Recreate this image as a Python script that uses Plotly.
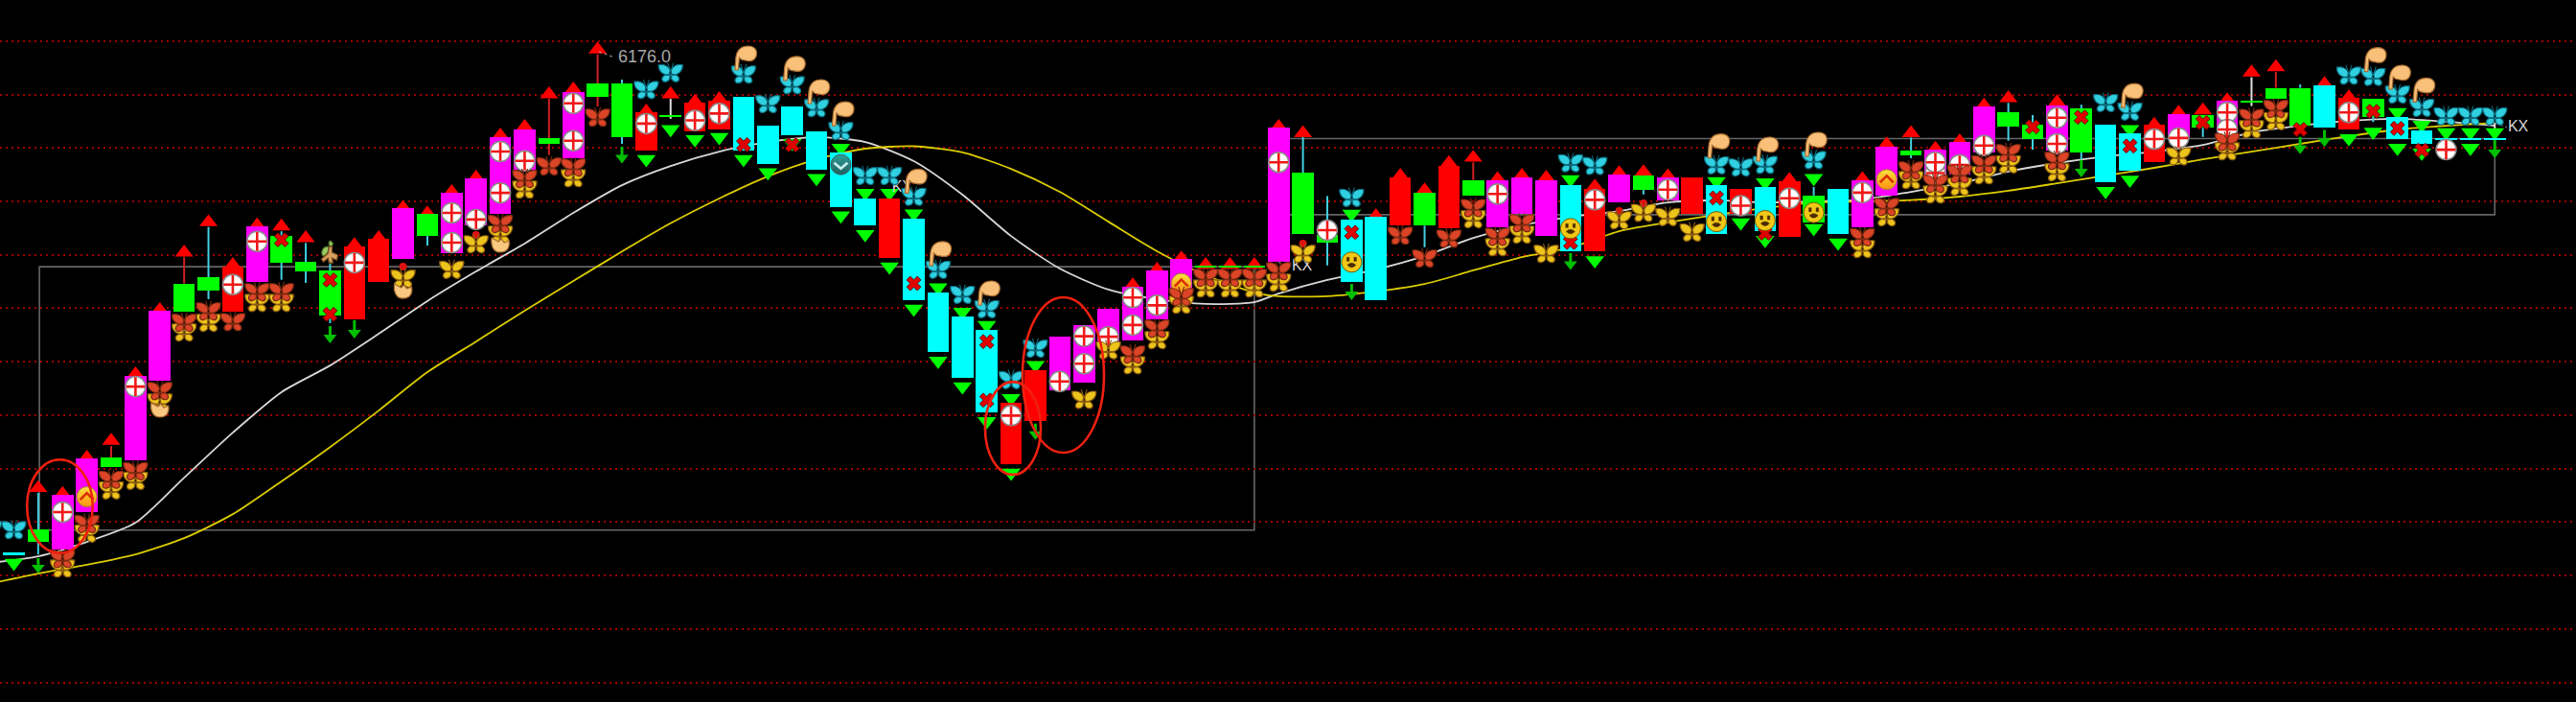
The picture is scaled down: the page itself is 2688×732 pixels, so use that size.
import plotly.graph_objects as go

# ---------- bars (index -1 .. 102) ----------
bar_index = list(range(-1, 103))
bar_kind = list("CCGMMGMMGGRMGGGRRMGMMMMGMGGRGRRCCCCCCRCCCCRRMMMMMMGGGMGGCCRGRGMMMCRMGMRCRCRGCMMGMMMGGMGCCRMGMGGGCRGCCCCC")
body_high = [5988.1, 5988.1, 5996.8, 6009.9, 6023.3, 6023.8, 6054.5, 6078.9, 6089.1, 6091.4, 6095.3, 6110.6, 6107.0,
             6097.2, 6094.0, 6103.1, 6105.8, 6117.3, 6115.1, 6123.1, 6128.5, 6144.1, 6146.9, 6143.7, 6160.9, 6164.1,
             6164.1, 6153.3, 6152.3, 6157.1, 6157.7, 6159.2, 6148.5, 6155.5, 6146.3, 6138.2, 6121.0, 6121.0, 6113.5,
             6085.8, 6076.7, 6071.8, 6044.3, 6056.5, 6069.1, 6073.4, 6079.5, 6088.0, 6093.9, 6098.3, 6095.8, 6095.8,
             6095.8, 6147.5, 6130.7, 6107.3, 6113.0, 6114.0, 6129.0, 6123.1, 6133.3, 6127.9, 6127.9, 6129.0, 6127.9,
             6125.9, 6124.7, 6130.1, 6129.6, 6129.0, 6129.0, 6125.9, 6124.7, 6125.3, 6127.5, 6122.1, 6124.7, 6127.9,
             6140.4, 6138.9, 6139.3, 6142.1, 6155.5, 6153.5, 6148.6, 6156.0, 6154.9, 6148.6, 6145.4, 6148.6, 6152.8,
             6152.3, 6157.7, 6157.7, 6162.5, 6162.5, 6163.6, 6158.7, 6158.3, 6151.7, 6146.7, 6143.7, 6143.7, 6143.7]
body_low = [5987.4, 5987.4, 5992.1, 5989.3, 6003.4, 6020.2, 6022.7, 6052.5, 6078.4, 6086.5, 6078.4, 6089.8, 6096.8,
            6093.5, 6077.2, 6075.7, 6089.8, 6098.3, 6107.0, 6100.6, 6110.9, 6115.1, 6131.9, 6141.5, 6136.1, 6159.2,
            6143.9, 6138.9, 6151.8, 6146.3, 6146.9, 6138.9, 6134.1, 6144.7, 6131.9, 6117.9, 6110.9, 6098.6, 6082.7,
            6063.4, 6053.6, 6040.7, 6021.2, 6037.4, 6049.1, 6051.9, 6065.3, 6067.6, 6075.7, 6085.3, 6095.2, 6095.2,
            6095.2, 6097.1, 6107.6, 6104.3, 6089.8, 6082.7, 6110.8, 6110.8, 6109.8, 6122.2, 6110.2, 6115.1, 6107.0,
            6101.1, 6101.1, 6119.4, 6124.2, 6120.4, 6115.1, 6107.6, 6115.1, 6108.7, 6106.6, 6112.1, 6107.6, 6110.2,
            6122.1, 6137.2, 6127.8, 6130.1, 6138.2, 6148.1, 6143.3, 6138.9, 6138.3, 6127.0, 6131.4, 6134.6, 6144.0,
            6147.5, 6146.4, 6157.2, 6158.3, 6148.3, 6147.5, 6146.9, 6151.7, 6143.3, 6141.5, 6143.1, 6143.1, 6143.1]
kind_color = {"C": "#00ffff", "G": "#00ff00", "M": "#ff00ff", "R": "#ff0000"}

# ---------- wicks ----------
wick_k = [1, 4, 7, 8, 11, 12, 13, 17, 22, 24, 25, 27, 53, 54, 58, 60, 67, 74, 78, 82, 83, 85, 90, 92, 93, 94, 97, 102]
wick_hi = [6010.5, 6028.1, 6099.0, 6110.3, 6108.7, 6104.3, 6096.5, 6107.0, 6158.4, 6175.1, 6165.6, 6158.4, 6144.0,
           6121.9, 6110.8, 6134.6, 6124.2, 6125.3, 6143.9, 6156.9, 6152.3, 6156.2, 6147.5, 6166.5, 6168.5, 6163.8,
           6151.7, 6149.4]
wick_lo = [5987.4, 6023.8, 6089.1, 6083.2, 6090.5, 6089.3, 6074.2, 6103.3, 6137.3, 6155.5, 6141.5, 6150.9, 6130.7,
           6095.9, 6102.7, 6127.9, 6122.5, 6122.1, 6136.1, 6142.7, 6139.3, 6135.7, 6144.1, 6155.7, 6162.5, 6162.5,
           6149.7, 6143.7]
wick_kind = ["c", "r", "r", "c", "c", "c", "c", "c", "r", "r", "c", "w", "c", "c", "c", "r", "c", "c", "c", "c", "c",
             "c", "c", "w", "r", "c", "c", "w"]
wick_color = {"c": "#40d0e0", "r": "#d02020", "w": "#e0e0e0"}

# ---------- moving averages ----------
ma_index = [-1, 1, 3, 5, 7, 9, 11, 13, 15, 17, 19, 21, 23, 25, 27, 29, 31, 33, 35, 37, 39, 41, 43, 45, 47, 49, 51,
            52, 54, 56, 58, 60, 62, 64, 66, 68, 70, 72, 74, 76, 78, 80, 82, 84, 86, 88, 90, 92, 94, 96, 98, 100, 102]
ma_white = [5984.2, 5986.7, 5992.1, 5999.3, 6016.2, 6033.1, 6048.3, 6058.3, 6070.2, 6082.5, 6093.6, 6104.1, 6115.6,
            6126.0, 6133.2, 6138.6, 6142.2, 6144.0, 6142.2, 6135.0, 6122.4, 6106.9, 6094.7, 6086.8, 6083.2, 6081.4,
            6082.1, 6085.3, 6090.4, 6094.3, 6099.4, 6106.2, 6110.9, 6114.1, 6116.3, 6119.5, 6120.3, 6119.5, 6119.9,
            6120.6, 6123.5, 6126.7, 6131.1, 6134.3, 6136.8, 6138.6, 6141.1, 6145.8, 6148.3, 6150.1, 6150.9, 6149.8,
            6148.3]
ma_yellow = [5976.4, 5980.2, 5983.5, 5987.4, 5993.5, 6002.5, 6014.8, 6027.7, 6041.4, 6055.8, 6067.3, 6078.9, 6090.0,
             6101.1, 6111.7, 6121.0, 6129.3, 6135.7, 6139.7, 6140.6, 6138.3, 6132.1, 6123.5, 6112.3, 6101.2, 6092.2,
             6085.7, 6084.3, 6084.3, 6086.1, 6088.9, 6094.0, 6099.0, 6102.6, 6108.7, 6112.0, 6114.9, 6117.4, 6119.5,
             6119.9, 6120.4, 6121.7, 6123.9, 6126.7, 6129.6, 6132.5, 6135.7, 6138.6, 6141.5, 6144.4, 6146.9, 6148.3,
             6149.4]

# ---------- signal markers ----------
tri_up_k = [1, 2, 3, 4, 5, 6, 7, 8, 9, 10, 11, 12, 14, 15, 16, 17, 18, 19, 20, 21, 22, 23, 24, 26, 27, 28, 29, 46, 47,
            48, 49, 50, 51, 52, 53, 56, 57, 58, 59, 60, 61, 62, 63, 65, 66, 67, 68, 73, 76, 77, 78, 79, 80, 81, 82,
            84, 88, 89, 90, 91, 92, 93, 95, 96]
tri_up_apex = [6015.3, 6013.1, 6026.7, 6033.1, 6058.0, 6082.1, 6103.7, 6115.1, 6099.0, 6113.9, 6113.5, 6109.1, 6106.5,
               6109.1, 6120.5, 6118.4, 6126.4, 6131.8, 6147.6, 6150.9, 6163.1, 6164.9, 6179.9, 6156.6, 6163.1, 6160.3,
               6161.3, 6091.4, 6097.2, 6101.5, 6099.0, 6099.0, 6099.0, 6150.9, 6148.5, 6117.4, 6132.5, 6127.0, 6137.3,
               6139.3, 6131.3, 6132.5, 6131.8, 6128.5, 6133.5, 6133.9, 6132.3, 6131.0, 6131.3, 6144.3, 6148.5, 6142.7,
               6145.5, 6158.9, 6161.7, 6160.1, 6151.7, 6156.2, 6157.1, 6160.9, 6171.3, 6173.3, 6167.0, 6161.9]
tri_down_k = [0, 26, 27, 28, 29, 30, 31, 32, 33, 34, 34, 35, 35, 36, 36, 37, 37, 38, 38, 39, 39, 40, 40, 41, 41, 42,
              55, 64, 65, 70, 71, 72, 72, 74, 74, 75, 86, 87, 87, 96, 97, 98, 98, 99, 99, 100, 101, 101, 102]
tri_down_base = [5985.7, 6137.2, 6148.5, 6144.7, 6145.5, 6137.2, 6132.3, 6143.3, 6130.1, 6141.5, 6116.1, 6124.6,
                 6109.1, 6124.6, 6096.9, 6116.8, 6081.1, 6089.1, 6061.6, 6079.9, 6051.9, 6075.0, 6038.9, 6047.5,
                 6019.5, 6059.9, 6116.7, 6129.7, 6099.3, 6129.0, 6113.5, 6128.5, 6106.9, 6130.1, 6111.3, 6105.9,
                 6125.3, 6148.5, 6129.5, 6145.1, 6147.5, 6154.9, 6141.5, 6150.1, 6139.7, 6147.3, 6147.3, 6141.5, 6147.3]
arrow_k = [1, 13, 14, 25, 42, 55, 64, 85, 94, 95, 102]
arrow_top = [5986.0, 6073.1, 6075.3, 6140.4, 6036.5, 6088.9, 6100.5, 6135.5, 6144.1, 6146.7, 6142.9]
arrow_tip = [5980.2, 6066.6, 6068.4, 6134.1, 6030.3, 6082.8, 6094.1, 6128.9, 6137.6, 6140.3, 6136.1]

plus_k = [2, 5, 9, 10, 14, 18, 18, 19, 20, 20, 21, 23, 23, 26, 28, 29, 41, 43, 44, 44, 45, 46, 46, 47, 52, 54, 61, 65,
          68, 71, 73, 76, 79, 79, 80, 81, 84, 84, 88, 89, 91, 91, 96, 100]
plus_y = [6003.3, 6050.4, 6088.7, 6104.9, 6096.9, 6115.6, 6104.4, 6113.1, 6138.6, 6123.1, 6135.1, 6156.7, 6142.7,
          6149.1, 6150.3, 6152.9, 6039.5, 6052.3, 6069.3, 6059.0, 6069.1, 6083.8, 6073.5, 6080.9, 6134.6, 6109.1,
          6122.7, 6120.5, 6124.3, 6118.3, 6121.1, 6123.2, 6130.5, 6134.6, 6133.6, 6140.9, 6151.3, 6141.5, 6143.3,
          6143.7, 6153.3, 6146.9, 6153.3, 6139.3]
cross_k = [11, 13, 13, 30, 32, 37, 40, 40, 55, 64, 70, 72, 83, 85, 87, 90, 94, 97, 98, 99]
cross_y = [6105.5, 6090.4, 6077.5, 6141.2, 6141.1, 6089.1, 6067.3, 6045.3, 6108.3, 6104.5, 6121.2, 6108.0, 6147.9,
           6151.5, 6140.7, 6149.5, 6146.9, 6153.7, 6147.3, 6139.1]
dot_k = [16, 19, 53, 66, 67]
dot_y = [6095.4, 6107.3, 6104.1, 6116.3, 6119.2]

fly_cyan_k = [-1, 0, 26, 27, 30, 31, 32, 33, 34, 35, 36, 37, 38, 39, 40, 41, 42, 55, 64, 65, 70, 71, 72, 74, 86, 87,
              96, 97, 98, 99, 100, 101, 102]
fly_cyan_y = [5996.4, 5996.4, 6161.6, 6167.9, 6167.4, 6156.3, 6163.4, 6154.8, 6146.2, 6129.3, 6129.3, 6121.5, 6094.1,
              6084.7, 6079.3, 6052.7, 6064.5, 6121.1, 6134.1, 6133.1, 6133.3, 6132.5, 6133.5, 6135.3, 6156.7, 6153.5,
              6167.0, 6166.5, 6159.9, 6154.9, 6151.7, 6151.7, 6151.7]
fly_red_k = [2, 3, 4, 5, 6, 7, 8, 9, 10, 11, 20, 21, 22, 23, 24, 46, 47, 48, 49, 50, 51, 52, 57, 58, 59, 60, 61, 62,
             76, 77, 78, 79, 80, 81, 82, 84, 91, 92, 93]
fly_red_y = [5985.6, 5998.7, 6015.3, 6018.5, 6048.6, 6074.2, 6078.5, 6074.5, 6085.7, 6085.7, 6111.3, 6128.2, 6132.9,
             6132.5, 6151.2, 6062.3, 6072.0, 6083.9, 6091.1, 6091.1, 6091.1, 6093.6, 6106.9, 6098.3, 6105.8, 6117.3,
             6106.5, 6111.6, 6106.3, 6117.7, 6131.4, 6126.4, 6130.0, 6133.7, 6137.9, 6135.0, 6142.1, 6151.1, 6154.5]
fly_yellow_k = [2, 3, 4, 5, 6, 7, 8, 10, 11, 16, 18, 19, 20, 21, 23, 44, 45, 46, 47, 48, 49, 50, 51, 52, 53, 60, 61,
                62, 63, 66, 67, 68, 69, 76, 77, 78, 79, 80, 81, 82, 84, 89, 91, 92, 93]
fly_yellow_y = [5982.0, 5995.1, 6011.3, 6014.9, 6044.3, 6070.6, 6074.2, 6081.7, 6081.7, 6090.8, 6094.1, 6103.7, 6107.3,
                6124.2, 6128.5, 6045.3, 6063.9, 6058.3, 6067.7, 6081.0, 6087.1, 6087.1, 6087.1, 6089.3, 6100.1, 6113.1,
                6102.6, 6107.3, 6100.1, 6112.7, 6115.5, 6113.9, 6108.1, 6101.9, 6113.8, 6127.8, 6122.4, 6125.3, 6129.6,
                6133.7, 6130.7, 6136.7, 6138.6, 6146.9, 6149.9]
hand_k = [30, 32, 33, 34, 37, 38, 40, 70, 72, 74, 87, 97, 98, 99]
hand_y = [6173.9, 6170.0, 6161.3, 6153.0, 6127.7, 6100.5, 6085.7, 6140.9, 6139.7, 6141.5, 6159.8, 6173.3, 6166.7, 6161.9]
fist_k = [6, 16, 20]
fist_y = [6041.8, 6086.4, 6103.7]
face_k = [55, 64, 70, 72, 74]
face_y = [6097.1, 6109.7, 6112.3, 6112.7, 6115.7]
chevron_up_k = [3, 48, 77]
chevron_up_y = [6009.0, 6089.1, 6128.1]
chevron_down_k = [34]
chevron_down_y = [6133.7]
tree_k = [13]
tree_y = [6100.8]

# ---------- frames, rings, grid and labels ----------
frame_x0 = [1.05, 52]
frame_x1 = [51, 102]
frame_top = [6095.4, 6143.5]
frame_bottom = [5996.5, 6114.9]
ring_x0 = [0.54, 39.93, 41.47]
ring_x1 = [3.24, 42.22, 44.82]
ring_top = [6023.0, 6052.2, 6083.9]
ring_bottom = [5987.9, 6017.3, 6025.6]
grid_prices = [6180.1, 6160.0, 6140.0, 6119.9, 6099.8, 6079.8, 6059.7, 6039.6, 6019.6, 5999.5, 5979.4, 5959.4, 5939.3]
peak_value = 6176.0
peak_label_x, peak_label_y = 24.84, 6173.7
kx_x = [52.54, 102.54, 36.1]
kx_y = [6095.4, 6147.7, 6124.9]
kx_text = ["KX", "KX", "KX"]
leader_x = [24.05, 24.7, None, 52.0, 52.5, None, 102.0, 102.5]
leader_y = [6176.1, 6173.9, None, 6097.0, 6095.4, None, 6149.4, 6147.7]

X_RANGE = [-0.571, 105.34]
Y_RANGE = [5932.0, 6195.5]

# ---------- pixel-sized sprites anchored on data positions ----------
WINGS = ("M0.5,3 C2,8 7,10 12.5,9 C13,4 10,-1 1.5,-2 Z "
         "M0.5,-1 C5,-1 9,-2 9,-6 C8,-10 3,-9 1,-6 Z "
         "M-0.5,3 C-2,8 -7,10 -12.5,9 C-13,4 -10,-1 -1.5,-2 Z "
         "M-0.5,-1 C-5,-1 -9,-2 -9,-6 C-8,-10 -3,-9 -1,-6 Z "
         "M0,2 L3,11 M0,2 L-3,11")
HAND = "M-9,-13 L-8,0 C-7,8 -2,12 5,12 C12,12 15,7 13,1 C11,-4 6,-4 2,-3 C0,-3 -3,-2 -4.5,0 L-5.5,-13 Z"
FIST = "M-9,7 C-10,0 -8,-8 0,-8 C8,-8 10,-2 9,4 L4,2 L1,6 L-2,3 Z"
FACE = ("M-5,5 L-2.5,5 L-2.5,1 L-5,1 Z M2.5,5 L5,5 L5,1 L2.5,1 Z "
        "M-4.5,-3 Q0,1 4.5,-3 Q0,-8 -4.5,-3 Z")
CHEV_UP = "M-7,-3 L0,4 L7,-3"
CHEV_DOWN = "M-7,2 L0,-4 L7,2"
TREE_LEAF = "M-2,6 C-9,6 -10,-2 -7,-4 C-3,-3 -1,2 -2,6 Z M0,12 C3,11 4,8 1,6 C-2,8 -2,10 0,12 Z"
TREE_BODY = "M-1,6 L2,6 L2,0 L8,-3 L7,-8 L2,-6 L3,-11 L-1,-11 L-2,-6 L-7,-10 L-9,-7 L-2,-1 Z"


def sprite(k, price, path, fill, line, width=1.2):
    return dict(type="path", xref="x", yref="y", xsizemode="pixel", ysizemode="pixel", xanchor=k, yanchor=price,
                path=path, fillcolor=fill, line=dict(color=line, width=width), layer="above")


def wick_points(selected):
    xs, ys = [], []
    for k, hi, lo, kind in zip(wick_k, wick_hi, wick_lo, wick_kind):
        if kind == selected:
            xs += [k, k, None]
            ys += [hi, lo, None]
    return xs, ys


def scatter_markers(xs, ys, axis="y", **marker):
    return go.Scatter(x=xs, y=ys, mode="markers", marker=marker, yaxis=axis, showlegend=False, hoverinfo="skip",
                      cliponaxis=True)


fig = go.Figure()

# Under the candle bodies: averages, wicks and signal triangles.
fig.add_trace(go.Scatter(x=ma_index, y=ma_white, mode="lines", line=dict(color="#d8d8d8", width=1.8, shape="spline", smoothing=0.7), showlegend=False))
fig.add_trace(go.Scatter(x=ma_index, y=ma_yellow, mode="lines", line=dict(color="#dccc00", width=1.8, shape="spline", smoothing=0.7), showlegend=False))
for kind, color in wick_color.items():
    wx, wy = wick_points(kind)
    fig.add_trace(go.Scatter(x=wx, y=wy, mode="lines", line=dict(color=color, width=2), showlegend=False))
stem_x, stem_y = [], []
for k, top, tip in zip(arrow_k, arrow_top, arrow_tip):
    stem_x += [k, k, None]
    stem_y += [top, tip + 2.2, None]
fig.add_trace(go.Scatter(x=stem_x, y=stem_y, mode="lines", line=dict(color="#00c000", width=3), showlegend=False))
fig.add_trace(scatter_markers(arrow_k, [t + 2.2 for t in arrow_tip], symbol="triangle-down", size=12, color="#00c000"))
fig.add_trace(scatter_markers(tri_up_k, [a - 3.0 for a in tri_up_apex], symbol="triangle-up", size=16.6, color="#ff0000"))
fig.add_trace(scatter_markers(tri_down_k, [b - 1.5 for b in tri_down_base], symbol="triangle-down", size=17, color="#00ff00"))

# Candle bodies and the glyphs that sit on them.
fig.add_trace(go.Bar(x=bar_index, y=[h - l for h, l in zip(body_high, body_low)], base=body_low, width=0.89,
                     marker=dict(color=[kind_color[c] for c in bar_kind], line=dict(width=0)), yaxis="y2", showlegend=False))
fig.add_trace(scatter_markers(dot_k, dot_y, "y2", symbol="circle", size=8, color="#e01010"))
fig.add_trace(scatter_markers(plus_k, plus_y, "y2", symbol="circle", size=21, color="#ffffff", line=dict(color="#8a8a8a", width=1.5)))
fig.add_trace(scatter_markers(plus_k, plus_y, "y2", symbol="cross-thin", size=14, line=dict(color="#f01818", width=2.6)))
fig.add_trace(scatter_markers(cross_k, cross_y, "y2", symbol="x", size=13, color="#e00000", line=dict(color="#700000", width=1)))
fig.add_trace(scatter_markers(face_k, face_y, "y2", symbol="circle", size=21, color="#f2c818", line=dict(color="#7a5a00", width=1)))
fig.add_trace(scatter_markers(chevron_up_k, chevron_up_y, "y2", symbol="circle", size=21, color="#ffe040",
                              gradient=dict(type="vertical", color="#ff9010"), line=dict(color="#a08040", width=1)))
fig.add_trace(scatter_markers(chevron_down_k, chevron_down_y, "y2", symbol="circle", size=21, color="#2f9f98",
                              gradient=dict(type="vertical", color="#206060"), line=dict(color="#406060", width=1)))

# Labels and their leaders.
fig.add_trace(go.Scatter(x=leader_x, y=leader_y, mode="lines", yaxis="y2", line=dict(color="#b0b0b0", width=1, dash="dot"), showlegend=False))
fig.add_trace(go.Scatter(x=[peak_label_x], y=[peak_label_y], mode="text", text=[f"{peak_value:.1f}"], yaxis="y2", textposition="middle right",
                         textfont=dict(family="Liberation Sans", size=18, color="#a8a8a8"), showlegend=False))
fig.add_trace(go.Scatter(x=kx_x, y=kx_y, mode="text", text=kx_text, yaxis="y2", textposition="middle right",
                         textfont=dict(family="Liberation Sans", size=16, color="#d8d8d8"), showlegend=False))

shapes = []
for x0, x1, top, bottom in zip(frame_x0, frame_x1, frame_top, frame_bottom):
    shapes.append(dict(type="rect", xref="x", yref="y", x0=x0, x1=x1, y0=bottom, y1=top, layer="below",
                       line=dict(color="#666666", width=1.6)))
for k, y in zip(fly_yellow_k, fly_yellow_y):
    shapes.append(sprite(k, y, WINGS, "#ecc41c", "#8a5a10"))
for k, y in zip(fly_red_k, fly_red_y):
    shapes.append(sprite(k, y, WINGS, "#dc4428", "#7a2a10"))
for k, y in zip(fly_cyan_k, fly_cyan_y):
    shapes.append(sprite(k, y, WINGS, "#30d0e0", "#0a6a7c"))
for k, y in zip(hand_k, hand_y):
    shapes.append(sprite(k, y, HAND, "#f8c078", "#a86c30"))
for k, y in zip(fist_k, fist_y):
    shapes.append(sprite(k, y, FIST, "#f8c880", "#a86c30"))
for k, y in zip(face_k, face_y):
    shapes.append(sprite(k, y, FACE, "#4a2c00", "#4a2c00", 0.5))
for k, y in zip(chevron_up_k, chevron_up_y):
    shapes.append(sprite(k, y, CHEV_UP, "rgba(0,0,0,0)", "#d83000", 2.6))
for k, y in zip(chevron_down_k, chevron_down_y):
    shapes.append(sprite(k, y, CHEV_DOWN, "rgba(0,0,0,0)", "#c8eeee", 2.6))
for k, y in zip(tree_k, tree_y):
    shapes.append(sprite(k, y, TREE_LEAF, "#98cc60", "#507030"))
    shapes.append(sprite(k, y, TREE_BODY, "#d8a060", "#805020"))
for x0, x1, top, bottom in zip(ring_x0, ring_x1, ring_top, ring_bottom):
    shapes.append(dict(type="circle", xref="x", yref="y", x0=x0, x1=x1, y0=bottom, y1=top, layer="above",
                       line=dict(color="#f02010", width=2.6)))

fig.update_layout(
    width=2688, height=732, autosize=False,
    margin=dict(l=0, r=0, t=0, b=0, pad=0),
    paper_bgcolor="#000000", plot_bgcolor="#000000",
    showlegend=False, hovermode=False, bargap=0, barmode="overlay",
    xaxis=dict(range=X_RANGE, visible=False, showgrid=False, zeroline=False, fixedrange=True),
    yaxis=dict(range=Y_RANGE, showgrid=True, gridcolor="#a00000", gridwidth=1.5, griddash="2px 4px",
               tickmode="array", tickvals=grid_prices, showticklabels=False, ticks="", zeroline=False,
               showline=False, fixedrange=True),
    yaxis2=dict(range=Y_RANGE, overlaying="y", visible=False, showgrid=False, zeroline=False, fixedrange=True),
    shapes=shapes,
)

fig.write_html("out.html", config=dict(displayModeBar=False),
               post_script="document.body.style.margin='0';document.body.style.overflow='hidden';")
